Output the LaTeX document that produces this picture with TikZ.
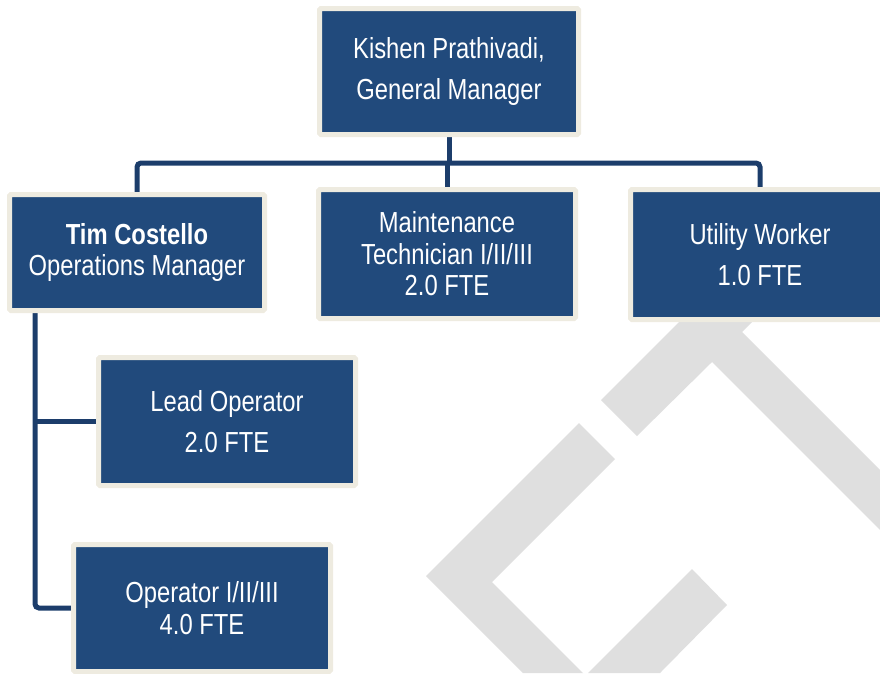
\documentclass[tikz,border=0pt]{standalone}
\usepackage{fontspec}
\setmainfont[FakeStretch=0.82]{Liberation Sans}
\usetikzlibrary{backgrounds}
\definecolor{boxblue}{HTML}{214A7C}
\definecolor{boxedge}{HTML}{EEEBE0}
\definecolor{connblue}{HTML}{1C3D6B}
\definecolor{wmgray}{HTML}{DFDFDF}
\tikzset{
  orgbox/.style={rectangle, fill=boxblue, draw=boxedge, line width=5pt, rounded corners=1.5pt,
    text=white, align=center, inner sep=0pt},
  wide/.style={font=\fontsize{29}{41}\selectfont},
  tight/.style={font=\fontsize{29}{31.5}\selectfont},
  conn/.style={draw=connblue, line width=5pt, rounded corners=4pt},
  wm/.style={fill=wmgray, draw=none}
}
\begin{document}
\begin{tikzpicture}[x=1pt,y=-1pt]
\useasboundingbox (0,0) rectangle (880,673);
% boxes
\node[orgbox, wide, minimum width=259pt, minimum height=126pt] (gm) at (449,71.5) {Kishen Prathivadi,\\General Manager};
\node[orgbox, tight, minimum width=255pt, minimum height=116pt] (tim) at (137,252.5) {\textbf{Tim Costello}\\Operations Manager};
\node[orgbox, tight, minimum width=257pt, minimum height=129pt] (maint) at (447,254) {Maintenance\\Technician I/II/III\\2.0 FTE};
\node[orgbox, wide, minimum width=259pt, minimum height=130pt] (util) at (760,254.5) {Utility Worker\\1.0 FTE};
\node[orgbox, wide, minimum width=257pt, minimum height=128pt] (lead) at (227,421.5) {Lead Operator\\2.0 FTE};
\node[orgbox, tight, minimum width=257pt, minimum height=127pt] (op) at (202,608) {Operator I/II/III\\4.0 FTE};
% coordinates
\coordinate (bus) at (449,163);
\coordinate (trunk) at (35,400);
\begin{pgfonlayer}{background}
% watermark
\fill[wm] (601,400) -- (637,436) -- (712,362) -- (900,550) -- (900,490) -- (742,332) -- (760,314) -- (701,300) -- cycle;
\fill[wm] (579,423) -- (615,459) -- (492,582) -- (583,673) -- (523,673) -- (426,576) -- cycle;
\fill[wm] (692,569) -- (727,605) -- (660,673) -- (588,673) -- cycle;
% connectors
\draw[conn] (gm.south) -- (gm.south |- bus);
\draw[conn] (tim.north) |- (bus) -| (util.north);
\draw[conn] (maint.north |- bus) -- (maint.north);
\draw[conn] (tim.south -| trunk) |- (op.west);
\draw[conn] (trunk |- lead.west) -- (lead.west);
\end{pgfonlayer}
\end{tikzpicture}
\end{document}
